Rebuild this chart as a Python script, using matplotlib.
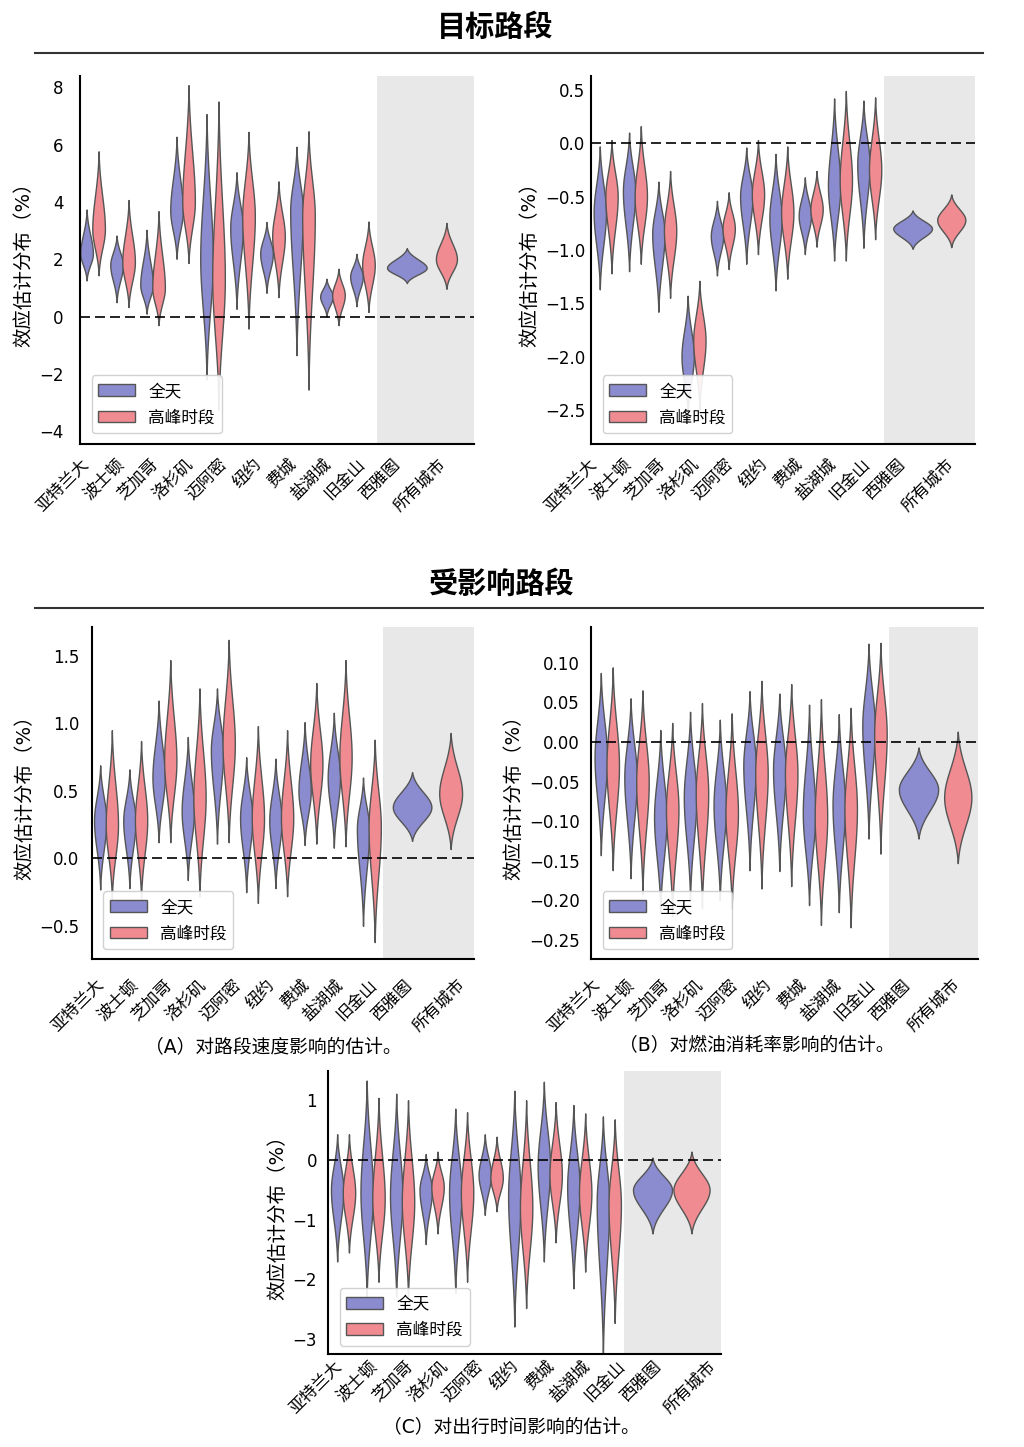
import numpy as np
import matplotlib
matplotlib.use('Agg')
import matplotlib.pyplot as plt
from matplotlib.patches import Patch
from matplotlib.lines import Line2D
from matplotlib.ticker import MultipleLocator

plt.rcParams['font.family'] = ['DejaVu Sans', 'Noto Sans CJK SC']

cities = ['亚特兰大', '波士顿', '芝加哥', '洛杉矶', '迈阿密', '纽约', '费城', '盐湖城', '旧金山', '西雅图']
tick_labels = cities + ['所有城市']
series_names = ['全天', '高峰时段']

# each violin: (low end, widest point, high end); last entry is 所有城市
# top left: 目标路段, speed
tl_day = [(1.26, 2.2, 3.74), (0.5, 1.8, 2.83), (0.1, 1.1, 3.03), (2.02, 3.7, 6.28), (-2.2, 2.0, 7.07),
          (0.27, 3.1, 5.04), (0.83, 2.2, 3.3), (-1.35, 3.7, 5.93), (0.0, 0.7, 1.32), (0.36, 1.4, 2.19),
          (1.17, 1.7, 2.39)]
tl_peak = [(1.44, 3.05, 5.77), (0.33, 1.9, 4.07), (-0.3, 1.0, 3.68), (1.87, 4.0, 8.08), (-3.25, 1.3, 7.51),
           (-0.42, 3.5, 6.45), (0.68, 2.8, 4.72), (-2.55, 3.5, 6.47), (-0.3, 0.75, 1.67), (0.16, 1.8, 3.32),
           (0.97, 2.0, 3.27)]
# top right: 目标路段, fuel
tr_day = [(-1.37, -0.65, -0.03), (-1.2, -0.45, 0.1), (-1.58, -0.85, -0.36), (-2.55, -2.0, -1.43),
          (-1.24, -0.87, -0.54), (-1.13, -0.5, -0.04), (-1.38, -0.7, -0.1), (-1.04, -0.68, -0.32),
          (-1.1, -0.4, 0.42), (-0.98, -0.2, 0.4), (-0.99, -0.8, -0.63)]
tr_peak = [(-1.22, -0.5, 0.03), (-1.13, -0.5, 0.16), (-1.45, -0.82, -0.26), (-2.5, -1.85, -1.29),
           (-1.18, -0.8, -0.46), (-1.04, -0.48, 0.03), (-1.27, -0.65, -0.03), (-0.97, -0.62, -0.26),
           (-1.1, -0.35, 0.49), (-0.9, -0.25, 0.43), (-0.975, -0.72, -0.48)]
# (A) 受影响路段, speed
a_day = [(-0.23, 0.28, 0.69), (-0.22, 0.28, 0.66), (0.12, 0.6, 1.17), (-0.16, 0.35, 0.9), (0.11, 0.8, 1.26),
         (-0.25, 0.3, 0.75), (-0.22, 0.28, 0.74), (0.1, 0.5, 1.01), (0.08, 0.6, 1.08), (-0.5, 0.22, 0.6),
         (0.13, 0.38, 0.64)]
a_peak = [(-0.3, 0.25, 0.95), (-0.3, 0.28, 0.87), (0.12, 0.72, 1.47), (-0.28, 0.45, 1.26), (0.12, 0.85, 1.62),
          (-0.33, 0.3, 0.98), (-0.28, 0.3, 0.95), (0.11, 0.7, 1.3), (0.09, 0.75, 1.47), (-0.62, 0.23, 0.88),
          (0.07, 0.48, 0.93)]
# (B) 受影响路段, fuel
b_day = [(-0.143, -0.02, 0.087), (-0.172, -0.045, 0.055), (-0.215, -0.095, 0.015), (-0.2, -0.07, 0.038),
         (-0.2, -0.08, 0.028), (-0.162, -0.03, 0.064), (-0.163, -0.035, 0.061), (-0.206, -0.09, 0.047),
         (-0.215, -0.08, 0.035), (-0.122, 0.02, 0.124), (-0.122, -0.06, -0.007)]
b_peak = [(-0.162, -0.03, 0.094), (-0.192, -0.05, 0.065), (-0.22, -0.085, 0.024), (-0.21, -0.065, 0.049),
          (-0.21, -0.09, 0.036), (-0.185, -0.04, 0.077), (-0.182, -0.04, 0.073), (-0.231, -0.095, 0.054),
          (-0.234, -0.085, 0.043), (-0.141, 0.01, 0.125), (-0.153, -0.07, 0.013)]
# (C) 受影响路段, travel time
c_day = [(-1.7, -0.5, 0.43), (-2.3, -0.55, 1.33), (-2.3, -0.6, 1.11), (-1.41, -0.5, 0.1), (-2.23, -0.55, 0.86),
         (-0.92, -0.25, 0.43), (-2.79, -0.6, 1.16), (-1.7, -0.1, 1.31), (-2.15, -0.45, 0.92), (-3.3, -0.7, 0.73),
         (-1.23, -0.5, 0.04)]
c_peak = [(-1.55, -0.55, 0.43), (-2.04, -0.65, 1.04), (-2.3, -0.7, 1.0), (-1.23, -0.45, 0.14), (-2.04, -0.55, 0.8),
          (-0.86, -0.3, 0.39), (-2.48, -0.8, 1.0), (-1.38, -0.25, 0.97), (-1.87, -0.55, 0.78), (-2.73, -0.75, 0.68),
          (-1.23, -0.5, 0.14)]

BLUE = '#8b8bcf'
RED = '#f08c91'
EDGE = '#555555'
SHADE = '#e8e8e8'
W = 1024.0
H = 1447.0


def profile(lo, mid, hi, n=300):
    y = np.linspace(lo, hi, n)
    t = np.where(y < mid, (mid - y) / (mid - lo), (y - mid) / (hi - mid))
    return y, np.exp(-3.0 * t ** 2) * (1 - t ** 6)


def violin(ax, x, stats, halfw, color):
    y, w = profile(*stats)
    ax.fill_betweenx(y, x - halfw * w, x + halfw * w, facecolor=color,
                     edgecolor=EDGE, lw=1.0, zorder=2)


def panel(px, day, peak, ylim, ystep, xlim, ticks, ypad, xpad):
    l, t, r, b = px
    ax = fig.add_axes([l / W, 1 - b / H, (r - l) / W, (b - t) / H])
    ax.axvspan(9.5, xlim[1], color=SHADE, lw=0, zorder=0)
    pos = np.arange(len(cities))
    for i in pos:
        violin(ax, i - 0.2, day[i], 0.21, BLUE)
        violin(ax, i + 0.2, peak[i], 0.21, RED)
    spreads = [day[-1][2] - day[-1][0], peak[-1][2] - peak[-1][0]]
    violin(ax, 10.48, day[-1], 0.66 * min(spreads) / spreads[0], BLUE)
    violin(ax, 11.8, peak[-1], 0.66 * min(spreads) / spreads[1], RED)
    ax.axhline(0, color='black', ls='--', lw=1.2, dashes=(6, 3), zorder=3)
    ax.set_xlim(*xlim)
    ax.set_ylim(*ylim)
    ax.yaxis.set_major_locator(MultipleLocator(ystep))
    ax.set_xticks(ticks)
    ax.set_xticklabels(tick_labels, rotation=45, ha='right', fontsize=12)
    ax.tick_params(axis='y', length=0, pad=ypad, labelsize=12)
    ax.tick_params(axis='x', length=0, pad=xpad)
    for s in ['top', 'right']:
        ax.spines[s].set_visible(False)
    for s in ['left', 'bottom']:
        ax.spines[s].set_linewidth(1.5)
    ax.set_ylabel('效应估计分布（%）', fontsize=14)
    handles = [Patch(facecolor=BLUE, edgecolor=EDGE, label=series_names[0]),
               Patch(facecolor=RED, edgecolor=EDGE, label=series_names[1])]
    leg = ax.legend(handles=handles, loc='lower left', bbox_to_anchor=(0.03, 0.03),
                    borderaxespad=0, fontsize=12, edgecolor='#cccccc', framealpha=0.9,
                    handlelength=2.2)
    leg.set_zorder(5)
    return ax


def ticks_from(start, step, last):
    return [start + step * k for k in range(10)] + [last]


fig = plt.figure(figsize=(10.24, 14.47), dpi=100)

panel((80, 76, 474, 444), tl_day, tl_peak, (-4.45, 8.4), 2, (-0.42, 12.72),
      ticks_from(0.0, 1.15, 11.9), 12, 8)
panel((591, 76, 975, 444), tr_day, tr_peak, (-2.82, 0.63), 0.5, (-0.5, 12.61),
      ticks_from(-0.2, 1.17, 12.0), 4, 8)
panel((92, 627, 474, 959), a_day, a_peak, (-0.745, 1.715), 0.5, (-0.48, 12.6),
      ticks_from(0.05, 1.17, 12.4), 9, 12)
panel((591, 627, 978, 959), b_day, b_peak, (-0.274, 0.145), 0.05, (-0.53, 12.48),
      ticks_from(-0.13, 1.16, 12.0), 8, 12)
panel((328, 1071, 721, 1354), c_day, c_peak, (-3.25, 1.49), 1, (-0.51, 12.8),
      ticks_from(0.07, 1.2, 12.75), 8, 2)

fig.text(495 / W, 1 - 28 / H, '目标路段', ha='center', va='center', fontsize=21, fontweight='bold')
fig.text(502 / W, 1 - 584 / H, '受影响路段', ha='center', va='center', fontsize=21, fontweight='bold')
for yy in [53, 608]:
    fig.add_artist(Line2D([35 / W, 983 / W], [1 - yy / H, 1 - yy / H], transform=fig.transFigure,
                          color='#333333', lw=1.5))

fig.text(273 / W, 1 - 1047 / H, '（A）对路段速度影响的估计。', ha='center', va='center', fontsize=13.5)
fig.text(757 / W, 1 - 1046 / H, '（B）对燃油消耗率影响的估计。', ha='center', va='center', fontsize=13.5)
fig.text(511 / W, 1 - 1427 / H, '（C）对出行时间影响的估计。', ha='center', va='center', fontsize=13.5)

fig.savefig('out.png', dpi=100)
